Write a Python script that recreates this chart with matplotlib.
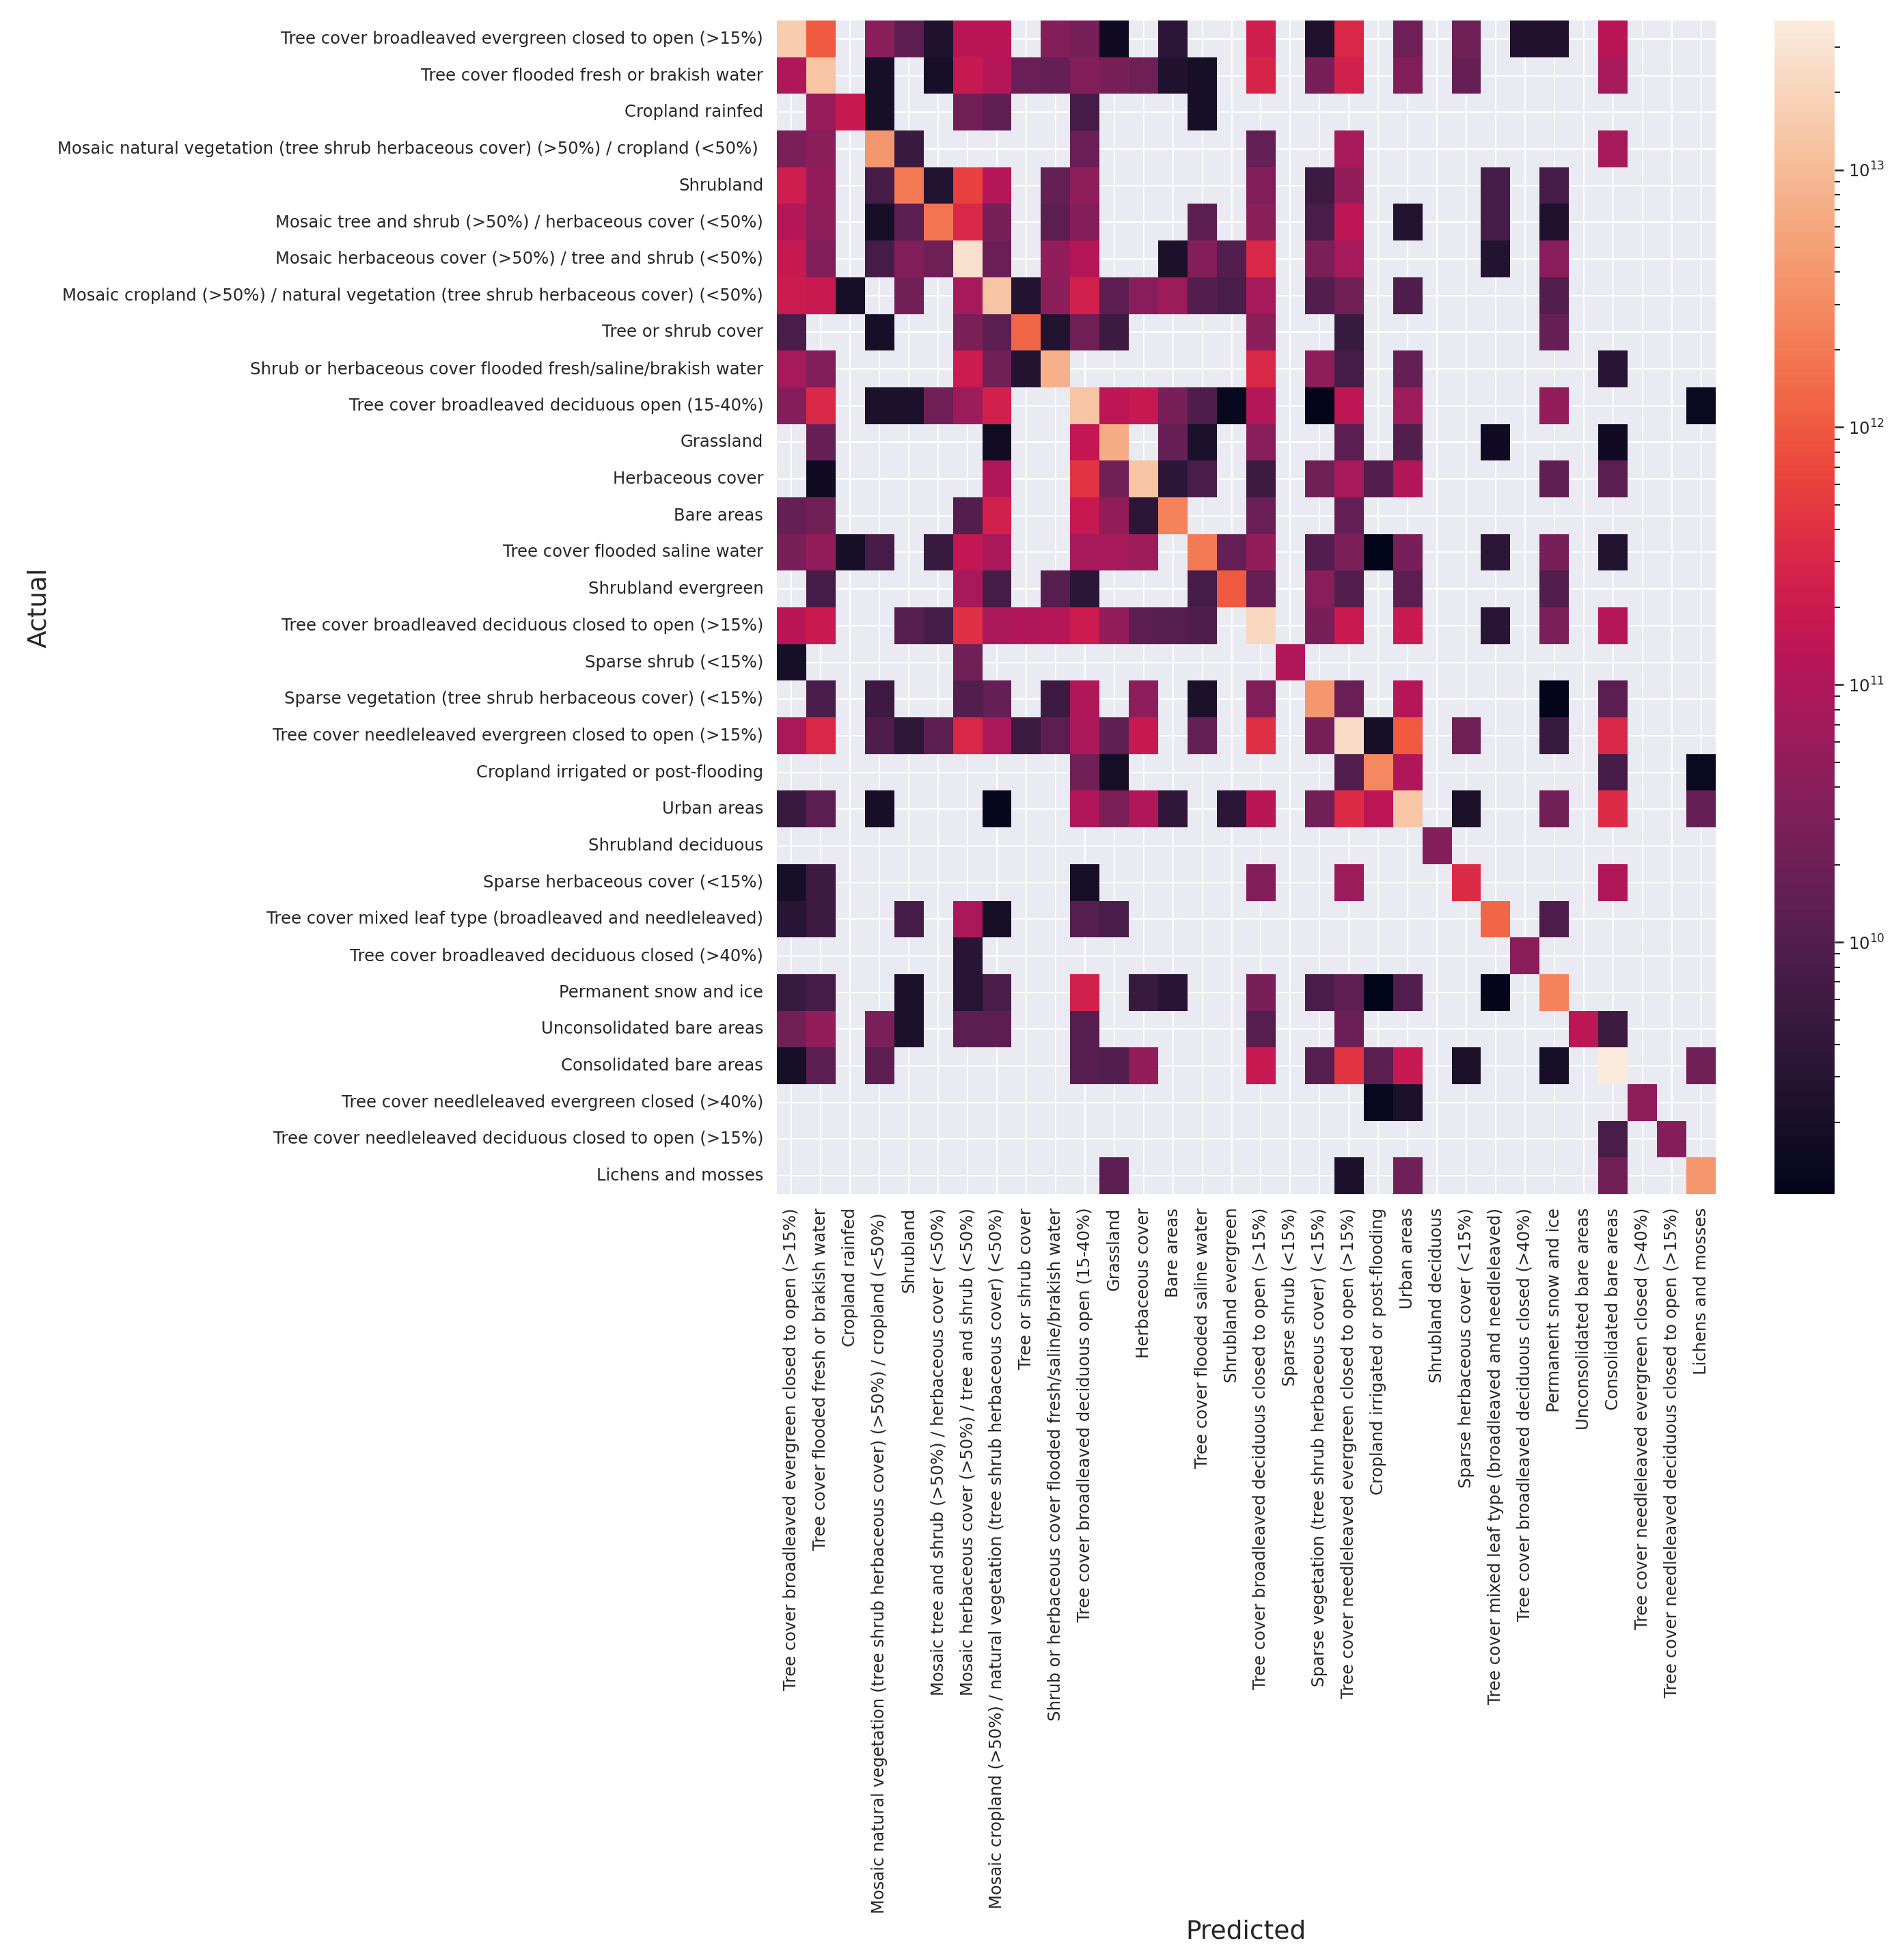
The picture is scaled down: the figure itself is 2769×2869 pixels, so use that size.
import numpy as np
import pandas as pd
import matplotlib
matplotlib.use("Agg")
import matplotlib.pyplot as plt
import seaborn as sns
from matplotlib.colors import LogNorm

classes = [
    "Tree cover broadleaved evergreen closed to open (>15%)",
    "Tree cover flooded fresh or brakish water",
    "Cropland rainfed",
    "Mosaic natural vegetation (tree shrub herbaceous cover) (>50%) / cropland (<50%) ",
    "Shrubland",
    "Mosaic tree and shrub (>50%) / herbaceous cover (<50%)",
    "Mosaic herbaceous cover (>50%) / tree and shrub (<50%)",
    "Mosaic cropland (>50%) / natural vegetation (tree shrub herbaceous cover) (<50%)",
    "Tree or shrub cover",
    "Shrub or herbaceous cover flooded fresh/saline/brakish water",
    "Tree cover broadleaved deciduous open (15-40%)",
    "Grassland",
    "Herbaceous cover",
    "Bare areas",
    "Tree cover flooded saline water",
    "Shrubland evergreen",
    "Tree cover broadleaved deciduous closed to open (>15%)",
    "Sparse shrub (<15%)",
    "Sparse vegetation (tree shrub herbaceous cover) (<15%)",
    "Tree cover needleleaved evergreen closed to open (>15%)",
    "Cropland irrigated or post-flooding",
    "Urban areas",
    "Shrubland deciduous",
    "Sparse herbaceous cover (<15%)",
    "Tree cover mixed leaf type (broadleaved and needleleaved)",
    "Tree cover broadleaved deciduous closed (>40%)",
    "Permanent snow and ice",
    "Unconsolidated bare areas",
    "Consolidated bare areas",
    "Tree cover needleleaved evergreen closed (>40%)",
    "Tree cover needleleaved deciduous closed to open (>15%)",
    "Lichens and mosses",
]

# confusion matrix (area), rows = actual, cols = predicted, 0 = nothing
cm = [
    [1.6e13, 1e12, 0, 4e10, 1.3e10, 2.5e9, 1.3e11, 1.3e11, 0, 3.5e10, 2.5e10, 1.6e9, 0, 3.5e9, 0, 0,
     2.2e11, 0, 2.5e9, 3.2e11, 0, 2e10, 0, 2e10, 0, 2.5e9, 2.5e9, 0, 1.3e11, 0, 0, 0],
    [1e11, 1.3e13, 0, 2e9, 0, 2e9, 1.8e11, 1.1e11, 1.8e10, 1.6e10, 3.2e10, 2.6e10, 2e10, 2.5e9, 2e9, 0,
     2.8e11, 0, 2.6e10, 2.5e11, 0, 3.2e10, 0, 1.7e10, 0, 0, 0, 0, 8e10, 0, 0, 0],
    [0, 5.6e10, 1.8e11, 2e9, 0, 0, 2.2e10, 1.4e10, 0, 0, 7e9, 0, 0, 0, 2e9, 0,
     0, 0, 0, 0, 0, 0, 0, 0, 0, 0, 0, 0, 0, 0, 0, 0],
    [2.8e10, 4e10, 0, 4e12, 5e9, 0, 0, 0, 0, 0, 1.8e10, 0, 0, 0, 0, 0,
     1.6e10, 0, 0, 8e10, 0, 0, 0, 0, 0, 0, 0, 0, 8e10, 0, 0, 0],
    [2.2e11, 5e10, 0, 7e9, 2e12, 2.8e9, 5.6e11, 1.1e11, 0, 1.6e10, 4.5e10, 0, 0, 0, 0, 0,
     3.2e10, 0, 5.6e9, 5e10, 0, 0, 0, 0, 7e9, 0, 7e9, 0, 0, 0, 0, 0],
    [1.1e11, 4.5e10, 0, 2e9, 1.3e10, 1.8e12, 3.2e11, 2.6e10, 0, 1.3e10, 3.5e10, 0, 0, 0, 1.3e10, 0,
     4e10, 0, 8e9, 1.4e11, 0, 2.8e9, 0, 0, 7e9, 0, 2.5e9, 0, 0, 0, 0, 0],
    [1.8e11, 3.2e10, 0, 7e9, 3.2e10, 2e10, 2.8e13, 1.8e10, 0, 5e10, 1.1e11, 0, 0, 2.2e9, 3.5e10, 1e10,
     3.2e11, 0, 2.8e10, 8e10, 0, 0, 0, 0, 2.8e9, 0, 3.8e10, 0, 0, 0, 0, 0],
    [2e11, 1.9e11, 2e9, 0, 2.2e10, 0, 8e10, 1.3e13, 2.8e9, 4e10, 2.5e11, 1.3e10, 3.8e10, 6.3e10, 1e10, 8e9,
     8e10, 0, 1e10, 2.2e10, 0, 9e9, 0, 0, 0, 0, 1e10, 0, 0, 0, 0, 0],
    [8e9, 0, 0, 2e9, 0, 0, 2.8e10, 1.3e10, 1.3e12, 2.8e9, 2e10, 5.6e9, 0, 0, 0, 0,
     4e10, 0, 0, 5e9, 0, 0, 0, 0, 0, 0, 1.7e10, 0, 0, 0, 0, 0],
    [8e10, 3.2e10, 0, 0, 0, 0, 2e11, 2.2e10, 2.8e9, 8e12, 0, 0, 0, 0, 0, 0,
     3.2e11, 0, 4.5e10, 7e9, 0, 1.6e10, 0, 0, 0, 0, 0, 0, 3.2e9, 0, 0, 0],
    [3.5e10, 3.2e11, 0, 2.2e9, 2.2e9, 2.2e10, 6.3e10, 2.5e11, 0, 0, 1.3e13, 1.4e11, 1.8e11, 2.6e10, 9e9, 1.3e9,
     1.1e11, 0, 1.1e9, 1.4e11, 0, 6.3e10, 0, 0, 0, 0, 5e10, 0, 0, 0, 0, 1.4e9],
    [0, 1.7e10, 0, 0, 0, 0, 0, 1.7e9, 0, 0, 1.6e11, 7e12, 0, 1.7e10, 2.2e9, 0,
     3.8e10, 0, 0, 1.3e10, 0, 1e10, 0, 0, 1.6e9, 0, 0, 0, 1.6e9, 0, 0, 0],
    [0, 1.6e9, 0, 0, 0, 0, 0, 1e11, 0, 0, 4.5e11, 2.2e10, 1.3e13, 3.5e9, 8e9, 0,
     5.6e9, 0, 2e10, 8e10, 1e10, 1e11, 0, 0, 0, 0, 1.4e10, 0, 1.3e10, 0, 0, 0],
    [1.6e10, 2.2e10, 0, 0, 0, 0, 1e10, 2.5e11, 0, 0, 1.8e11, 5e10, 3.5e9, 2.5e12, 0, 0,
     1.8e10, 0, 0, 1.6e10, 0, 0, 0, 0, 0, 0, 0, 0, 0, 0, 0, 0],
    [2.6e10, 5e10, 2e9, 7e9, 0, 5e9, 1.6e11, 9e10, 0, 0, 8e10, 8e10, 6.3e10, 0, 2e12, 1.6e10,
     5e10, 0, 1e10, 2.8e10, 1.05e9, 2.6e10, 0, 0, 3.5e9, 0, 2.6e10, 0, 2.8e9, 0, 0, 0],
    [0, 7e9, 0, 0, 0, 0, 8e10, 7e9, 0, 1.1e10, 3.5e9, 0, 0, 0, 7e9, 1e12,
     1.7e10, 0, 3.8e10, 1e10, 0, 1.3e10, 0, 0, 0, 0, 1e10, 0, 0, 0, 0, 0],
    [1.3e11, 1.9e11, 0, 0, 1.1e10, 7e9, 4e11, 9e10, 1e11, 1.1e11, 2e11, 5e10, 1.3e10, 1.1e10, 9e9, 0,
     2.2e13, 0, 2.6e10, 1.9e11, 0, 1.9e11, 0, 0, 3.2e9, 0, 2.8e10, 0, 1.1e11, 0, 0, 0],
    [2e9, 0, 0, 0, 0, 0, 2.2e10, 0, 0, 0, 0, 0, 0, 0, 0, 0,
     0, 1e11, 0, 0, 0, 0, 0, 0, 0, 0, 0, 0, 0, 0, 0, 0],
    [0, 8e9, 0, 5.6e9, 0, 0, 1e10, 1.6e10, 0, 5.6e9, 1e11, 0, 4.5e10, 0, 2.2e9, 0,
     3.2e10, 0, 4e12, 1.8e10, 0, 1.1e11, 0, 0, 0, 0, 1.1e9, 0, 1.3e10, 0, 0, 0],
    [9e10, 3.2e11, 0, 9e9, 4e9, 1.3e10, 3.2e11, 9e10, 5.6e9, 1.3e10, 9e10, 1.4e10, 1.8e11, 0, 1.6e10, 0,
     4e11, 0, 2.6e10, 2.5e13, 2e9, 1e12, 0, 2e10, 0, 0, 5e9, 0, 3.2e11, 0, 0, 0],
    [0, 0, 0, 0, 0, 0, 0, 0, 0, 0, 2.2e10, 2e9, 0, 0, 0, 0,
     0, 0, 0, 1e10, 2.8e12, 1e11, 0, 0, 0, 0, 0, 0, 7e9, 0, 0, 1.4e9],
    [5e9, 1.3e10, 0, 2e9, 0, 0, 0, 1.25e9, 0, 0, 1e11, 2.8e10, 1e11, 4e9, 0, 3.5e9,
     1.3e11, 0, 2.2e10, 3.5e11, 1.4e11, 1.4e13, 0, 2.2e9, 0, 0, 2.2e10, 0, 3.5e11, 0, 0, 1.6e10],
    [0, 0, 0, 0, 0, 0, 0, 0, 0, 0, 0, 0, 0, 0, 0, 0,
     0, 0, 0, 0, 0, 0, 3.5e10, 0, 0, 0, 0, 0, 0, 0, 0, 0],
    [2e9, 5.6e9, 0, 0, 0, 0, 0, 0, 0, 0, 2e9, 0, 0, 0, 0, 0,
     3.5e10, 0, 0, 6.3e10, 0, 0, 0, 3.5e11, 0, 0, 0, 0, 1e11, 0, 0, 0],
    [3.2e9, 5.6e9, 0, 0, 7e9, 0, 9e10, 2e9, 0, 0, 1.1e10, 8e9, 0, 0, 0, 0,
     0, 0, 0, 0, 0, 0, 0, 0, 1.3e12, 0, 9e9, 0, 0, 0, 0, 0],
    [0, 0, 0, 0, 0, 0, 3.2e9, 0, 0, 0, 0, 0, 0, 0, 0, 0,
     0, 0, 0, 0, 0, 0, 0, 0, 0, 4e10, 0, 0, 0, 0, 0, 0],
    [5e9, 7e9, 0, 0, 2.2e9, 0, 3.2e9, 8e9, 0, 0, 2.5e11, 0, 5e9, 3.2e9, 0, 0,
     2.6e10, 0, 8e9, 1.4e10, 1.05e9, 1e10, 0, 0, 1.1e9, 0, 2.5e12, 0, 0, 0, 0, 0],
    [2.2e10, 5e10, 0, 2.8e10, 2.2e9, 0, 1.3e10, 1.3e10, 0, 0, 1.1e10, 0, 0, 0, 0, 0,
     1.1e10, 0, 0, 1.8e10, 0, 0, 0, 0, 0, 0, 0, 1.4e11, 5.6e9, 0, 0, 0],
    [2e9, 1.3e10, 0, 1.3e10, 0, 0, 0, 0, 0, 0, 1.1e10, 1e10, 5e10, 0, 0, 0,
     1.8e11, 0, 1.1e10, 4.5e11, 1.3e10, 1.8e11, 0, 2.2e9, 0, 0, 2e9, 0, 3.8e13, 0, 0, 2.2e10],
    [0, 0, 0, 0, 0, 0, 0, 0, 0, 0, 0, 0, 0, 0, 0, 0,
     0, 0, 0, 0, 1.3e9, 2.2e9, 0, 0, 0, 0, 0, 0, 0, 4.5e10, 0, 0],
    [0, 0, 0, 0, 0, 0, 0, 0, 0, 0, 0, 0, 0, 0, 0, 0,
     0, 0, 0, 0, 0, 0, 0, 0, 0, 0, 0, 0, 8e9, 0, 3.5e10, 0],
    [0, 0, 0, 0, 0, 0, 0, 0, 0, 0, 0, 1.3e10, 0, 0, 0, 0,
     0, 0, 0, 2.2e9, 0, 2.2e10, 0, 0, 0, 0, 0, 0, 2.2e10, 0, 0, 4e12],
]

sns.set()
df = pd.DataFrame(np.array(cm), index=classes, columns=classes)

dpi = 150
W, H = 2770, 2869
fig = plt.figure(figsize=(W / dpi, H / dpi), dpi=dpi)
ax = fig.add_axes([1137 / W, 1 - 1748 / H, (2511 - 1137) / W, (1748 - 30) / H])
cax = fig.add_axes([2597 / W, 1 - 1748 / H, 88 / W, (1748 - 30) / H])

sns.heatmap(df, norm=LogNorm(), ax=ax, cbar_ax=cax,
            xticklabels=classes, yticklabels=classes)
ax.grid(True, color="white", linewidth=1)
ax.set_axisbelow(True)
ax.tick_params(labelsize=11.65)
cax.tick_params(labelsize=11.65)
ax.set_xlabel("Predicted", fontsize=18)
ax.set_ylabel("Actual", fontsize=18)

fig.savefig("out.png", dpi=dpi)
